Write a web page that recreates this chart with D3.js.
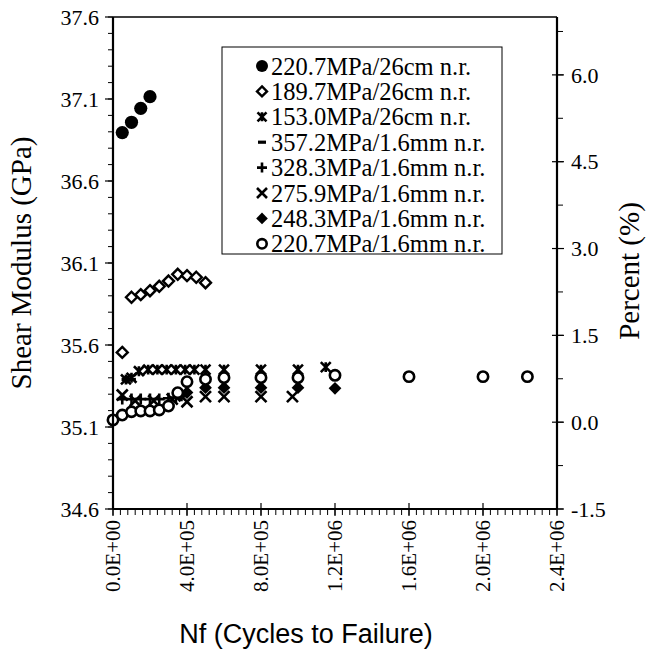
<!DOCTYPE html>
<html>
<head>
<meta charset="utf-8">
<script src="https://cdn.jsdelivr.net/npm/d3@7"></script>
<style>
  body { margin: 0; background: #fff; }
  text { fill: #000; }
</style>
</head>
<body>
<div id="chart"></div>
<script>
// series: [cycles, shear modulus (GPa)]
var g220_26cm = [[5e4,36.895],[1e5,36.958],[1.5e5,37.043],[2e5,37.114]];
var g189_26cm = [[5e4,35.555],[1e5,35.891],[1.5e5,35.907],[2e5,35.931],[2.5e5,35.958],[3e5,35.990],
                 [3.5e5,36.031],[4e5,36.023],[4.5e5,36.013],[5e5,35.980]];
var g153_26cm = [[7e4,35.39],[1e5,35.40],[1.4e5,35.44],[1.9e5,35.45],[2.4e5,35.45],[2.9e5,35.45],
                 [3.4e5,35.45],[3.9e5,35.45],[4.4e5,35.45],[5e5,35.45],[6e5,35.45],[8e5,35.45],
                 [1e6,35.45],[1.15e6,35.465]];
var g357_16mm = [[7e4,35.39],[1e5,35.39]];
var g328_16mm = [[5e4,35.27],[1e5,35.27],[1.5e5,35.27],[2e5,35.27],[2.5e5,35.27],[3e5,35.275],
                 [3.4e5,35.28],[3.7e5,35.29]];
var g275_16mm = [[5e4,35.295],[1.2e5,35.26],[2.2e5,35.26],[3.2e5,35.27],[4e5,35.254],[5e5,35.285],
                 [6e5,35.285],[8e5,35.285],[9.7e5,35.285]];
var g248_16mm = [[3.6e5,35.29],[4e5,35.31],[5e5,35.34],[6e5,35.34],[8e5,35.34],[1e6,35.34],[1.2e6,35.336]];
var g220_16mm = [[0,35.143],[5e4,35.173],[1e5,35.193],[1.5e5,35.198],[2e5,35.198],[2.5e5,35.204],
                 [3e5,35.228],[3.5e5,35.309],[4e5,35.376],[5e5,35.391],[6e5,35.401],[8e5,35.401],
                 [1e6,35.401],[1.2e6,35.415],[1.6e6,35.407],[2e6,35.407],[2.24e6,35.407]];

var seriesNames = ["220.7MPa/26cm n.r.", "189.7MPa/26cm n.r.", "153.0MPa/26cm n.r.",
                   "357.2MPa/1.6mm n.r.", "328.3MPa/1.6mm n.r.", "275.9MPa/1.6mm n.r.",
                   "248.3MPa/1.6mm n.r.", "220.7MPa/1.6mm n.r."];
var seriesData = [g220_26cm, g189_26cm, g153_26cm, g357_16mm, g328_16mm, g275_16mm, g248_16mm, g220_16mm];
var seriesMarks = ["dot", "diamondOpen", "asterisk", "dash", "plus", "cross", "diamond", "circleOpen"];

var xTicks = [0, 4e5, 8e5, 1.2e6, 1.6e6, 2.0e6, 2.4e6];
var xTickLabels = ["0.0E+00", "4.0E+05", "8.0E+05", "1.2E+06", "1.6E+06", "2.0E+06", "2.4E+06"];
var yTicks = [34.6, 35.1, 35.6, 36.1, 36.6, 37.1, 37.6];
var pctTicks = [-1.5, 0.0, 1.5, 3.0, 4.5, 6.0];

var width = 656, height = 652;
var plot = {left: 113, right: 557, top: 17, bottom: 509};
var serif = "'Liberation Serif', 'Times New Roman', serif";

var svg = d3.select("#chart").append("svg")
    .attr("width", width)
    .attr("height", height);

var x = d3.scaleLinear().domain([0, 2.4e6]).range([plot.left, plot.right]);
var y = d3.scaleLinear().domain([34.6, 37.6]).range([plot.bottom, plot.top]);
var yPct = d3.scaleLinear().domain([-1.5, 7.0]).range([plot.bottom, plot.top]);

// marker drawing
function drawMark(sel, kind, s) {
  if (kind === "dot") {
    sel.append("circle").attr("r", s * 0.6).attr("fill", "#000");
  } else if (kind === "circleOpen") {
    sel.append("circle").attr("r", s * 0.47).attr("fill", "#fff")
      .attr("stroke", "#000").attr("stroke-width", 2.6);
  } else if (kind === "diamondOpen") {
    var h = s * 0.5;
    sel.append("path").attr("d", "M0," + (-h) + "L" + h + ",0L0," + h + "L" + (-h) + ",0Z")
      .attr("fill", "#fff").attr("stroke", "#000").attr("stroke-width", 2.4);
  } else if (kind === "diamond") {
    var h2 = s * 0.58;
    sel.append("path").attr("d", "M0," + (-h2) + "L" + h2 + ",0L0," + h2 + "L" + (-h2) + ",0Z")
      .attr("fill", "#000");
  } else if (kind === "asterisk") {
    var a = s * 0.45;
    sel.append("path")
      .attr("d", "M" + (-a) + "," + (-a) + "L" + a + "," + a + "M" + a + "," + (-a) + "L" + (-a) + "," + a +
                 "M0," + (-a) + "L0," + a)
      .attr("stroke", "#000").attr("stroke-width", 2.6).attr("fill", "none");
  } else if (kind === "cross") {
    var c = s * 0.5;
    sel.append("path")
      .attr("d", "M" + (-c) + "," + (-c) + "L" + c + "," + c + "M" + c + "," + (-c) + "L" + (-c) + "," + c)
      .attr("stroke", "#000").attr("stroke-width", 2.6).attr("fill", "none");
  } else if (kind === "plus") {
    var p = s * 0.5;
    sel.append("path")
      .attr("d", "M" + (-p) + ",0L" + p + ",0M0," + (-p) + "L0," + p)
      .attr("stroke", "#000").attr("stroke-width", 2.6).attr("fill", "none");
  } else if (kind === "dash") {
    sel.append("rect").attr("x", -s * 0.4).attr("y", -1.6).attr("width", s * 0.8).attr("height", 3.2)
      .attr("fill", "#000");
  }
}

// data points
seriesData.forEach(function(data, i) {
  var g = svg.append("g").attr("class", "series");
  g.selectAll("g.pt")
    .data(data)
    .enter()
    .append("g")
      .attr("class", "pt")
      .attr("transform", function(d) { return "translate(" + x(d[0]) + "," + y(d[1]) + ")"; })
      .each(function() { drawMark(d3.select(this), seriesMarks[i], 11); });
});

// frame
svg.append("line").attr("x1", plot.left).attr("x2", plot.right).attr("y1", plot.top).attr("y2", plot.top)
  .attr("stroke", "#000").attr("stroke-width", 1.5);

// left axis
var yAxis = svg.append("g").attr("transform", "translate(" + plot.left + ",0)");
yAxis.append("line").attr("y1", plot.top).attr("y2", plot.bottom).attr("stroke", "#000").attr("stroke-width", 2.2);
yAxis.selectAll(".minor").data(d3.range(34.6, 37.61, 0.1)).enter().append("line")
  .attr("x1", -5).attr("x2", 0).attr("y1", function(d) { return y(d); }).attr("y2", function(d) { return y(d); })
  .attr("stroke", "#000").attr("stroke-width", 1);
yAxis.selectAll(".major").data(yTicks).enter().append("line")
  .attr("x1", -8).attr("x2", 0).attr("y1", function(d) { return y(d); }).attr("y2", function(d) { return y(d); })
  .attr("stroke", "#000").attr("stroke-width", 1.2);
yAxis.selectAll(".lbl").data(yTicks).enter().append("text")
  .attr("x", -14).attr("y", function(d) { return y(d); }).attr("dy", "0.35em")
  .attr("text-anchor", "end")
  .style("font-family", serif).style("font-size", "22px")
  .text(function(d) { return d.toFixed(1); });

// right axis (percent)
var rAxis = svg.append("g").attr("transform", "translate(" + plot.right + ",0)");
rAxis.append("line").attr("y1", plot.top).attr("y2", plot.bottom).attr("stroke", "#000").attr("stroke-width", 2.2);
rAxis.selectAll(".minor").data(d3.range(-1.5, 7.0, 0.75)).enter().append("line")
  .attr("x1", 0).attr("x2", 6).attr("y1", function(d) { return yPct(d); }).attr("y2", function(d) { return yPct(d); })
  .attr("stroke", "#000").attr("stroke-width", 1);
rAxis.selectAll(".major").data(pctTicks).enter().append("line")
  .attr("x1", -5).attr("x2", 7).attr("y1", function(d) { return yPct(d); }).attr("y2", function(d) { return yPct(d); })
  .attr("stroke", "#000").attr("stroke-width", 1.2);
rAxis.selectAll(".lbl").data(pctTicks).enter().append("text")
  .attr("x", 14).attr("y", function(d) { return yPct(d); }).attr("dy", "0.35em")
  .attr("text-anchor", "start")
  .style("font-family", serif).style("font-size", "22px")
  .text(function(d) { return d.toFixed(1); });

// bottom axis
var xAxis = svg.append("g").attr("transform", "translate(0," + plot.bottom + ")");
xAxis.append("line").attr("x1", plot.left).attr("x2", plot.right).attr("stroke", "#000").attr("stroke-width", 2.2);
xAxis.selectAll(".minor").data(d3.range(0, 2.4e6 + 1, 4e4)).enter().append("line")
  .attr("x1", function(d) { return x(d); }).attr("x2", function(d) { return x(d); })
  .attr("y1", 0).attr("y2", 6).attr("stroke", "#000").attr("stroke-width", 1);
xAxis.selectAll(".major").data(xTicks).enter().append("line")
  .attr("x1", function(d) { return x(d); }).attr("x2", function(d) { return x(d); })
  .attr("y1", -6).attr("y2", 7).attr("stroke", "#000").attr("stroke-width", 1.2);
xAxis.selectAll(".lbl").data(xTicks).enter().append("text")
  .attr("transform", function(d) { return "translate(" + x(d) + ",11) rotate(-90)"; })
  .attr("dy", "0.35em")
  .attr("text-anchor", "end")
  .style("font-family", serif).style("font-size", "21px")
  .text(function(d, i) { return xTickLabels[i]; });

// axis titles
svg.append("text")
  .attr("transform", "translate(31,263) rotate(-90)")
  .attr("text-anchor", "middle")
  .style("font-family", serif).style("font-size", "29px")
  .text("Shear Modulus  (GPa)");
svg.append("text")
  .attr("transform", "translate(639,271) rotate(-90)")
  .attr("text-anchor", "middle")
  .style("font-family", serif).style("font-size", "29px")
  .text("Percent (%)");
svg.append("text")
  .attr("x", 306).attr("y", 643)
  .attr("text-anchor", "middle")
  .style("font-family", "'Liberation Sans', Arial, sans-serif").style("font-size", "27px")
  .text("Nf (Cycles to Failure)");

// legend
var legend = svg.append("g");
legend.append("rect")
  .attr("x", 222).attr("y", 47).attr("width", 280).attr("height", 207)
  .attr("fill", "#fff").attr("stroke", "#000").attr("stroke-width", 1);
seriesNames.forEach(function(name, i) {
  var ly = 66 + i * 25.4;
  var m = legend.append("g").attr("transform", "translate(262," + ly + ")");
  drawMark(m, seriesMarks[i], 10);
  legend.append("text")
    .attr("x", 271).attr("y", ly).attr("dy", "0.35em")
    .style("font-family", serif).style("font-size", "24.5px")
    .text(name);
});
</script>
</body>
</html>
